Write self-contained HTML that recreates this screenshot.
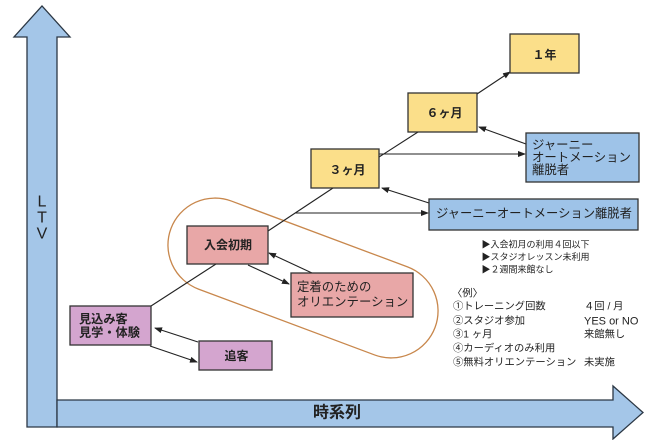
<!DOCTYPE html>
<html>
<head>
<meta charset="utf-8">
<style>
  html,body{margin:0;padding:0;background:#fff;}
  svg{display:block;}
  text{font-family:"Liberation Sans","Noto Sans CJK JP",sans-serif;fill:#222;}
</style>
</head>
<body>
<svg width="660" height="440" viewBox="0 0 660 440" xmlns="http://www.w3.org/2000/svg">
  <defs>
    <marker id="ah" markerWidth="8" markerHeight="6" refX="7" refY="3" orient="auto" markerUnits="userSpaceOnUse">
      <path d="M0,0 L8,3 L0,6 Z" fill="#222"/>
    </marker>
  </defs>

  <!-- Axes -->
  <polygon points="27,427 27,37 14,37 42,6 70,37 57,37 57,427" fill="#a4c6e8" stroke="#2b3744" stroke-width="1.3" stroke-linejoin="miter"/>
  <polygon points="57,400 613,400 613,386 643,412.5 613,439 613,427 57,427" fill="#a4c6e8" stroke="#2b3744" stroke-width="1.3"/>
  <text x="42" y="202" font-size="16" text-anchor="middle" dominant-baseline="central">L</text>
  <text x="42" y="218" font-size="16" text-anchor="middle" dominant-baseline="central">T</text>
  <text x="42" y="234" font-size="16" text-anchor="middle" dominant-baseline="central">V</text>
  <text x="337" y="413" font-size="16" font-weight="bold" text-anchor="middle" dominant-baseline="central">時系列</text>

  <!-- Oval -->
  <rect x="162" y="231" width="282" height="94" rx="47" ry="47" fill="none" stroke="#c8874c" stroke-width="1.3" transform="rotate(20.5 303 278)"/>

  <!-- Connectors -->
  <g stroke="#222" stroke-width="1.1" fill="none">
    <line x1="151" y1="306" x2="216" y2="264"/>
    <line x1="150" y1="346" x2="197" y2="362" marker-end="url(#ah)"/>
    <line x1="198" y1="342" x2="155" y2="328" marker-end="url(#ah)"/>
    <line x1="268" y1="231" x2="333" y2="188"/>
    <line x1="248" y1="265" x2="289" y2="284" marker-end="url(#ah)"/>
    <line x1="312" y1="273" x2="269" y2="253" marker-end="url(#ah)"/>
    <line x1="295" y1="213" x2="428" y2="213" marker-end="url(#ah)"/>
    <line x1="429" y1="203" x2="382" y2="188" marker-end="url(#ah)"/>
    <line x1="379" y1="157" x2="418" y2="132"/>
    <line x1="379" y1="154" x2="525" y2="154" marker-end="url(#ah)"/>
    <line x1="526" y1="144" x2="479" y2="127" marker-end="url(#ah)"/>
    <line x1="477" y1="94" x2="510" y2="72" marker-end="url(#ah)"/>
  </g>

  <!-- Boxes -->
  <g stroke="#333" stroke-width="1.3">
    <rect x="510" y="34" width="69" height="39" fill="#fbdf8a"/>
    <rect x="408" y="93" width="69" height="39" fill="#fbdf8a"/>
    <rect x="311" y="149" width="68" height="39" fill="#fbdf8a"/>
    <rect x="526" y="133" width="113" height="49" fill="#9ec3e8"/>
    <rect x="429" y="199" width="209" height="31" fill="#9ec3e8"/>
    <rect x="187" y="226" width="81" height="38" fill="#e8a7a7"/>
    <rect x="291" y="273" width="122" height="44" fill="#e8a7a7"/>
    <rect x="70" y="306" width="81" height="39" fill="#d4a5cf"/>
    <rect x="199" y="341" width="73" height="29" fill="#d4a5cf"/>
  </g>

  <!-- Box labels -->
  <text x="544.5" y="55" font-size="12" font-weight="bold" text-anchor="middle" dominant-baseline="central">１年</text>
  <text x="444.5" y="113" font-size="12" font-weight="bold" text-anchor="middle" dominant-baseline="central">６ヶ月</text>
  <text x="347.5" y="170" font-size="12" font-weight="bold" text-anchor="middle" dominant-baseline="central">３ヶ月</text>

  <text font-size="12.4" dominant-baseline="central">
    <tspan x="532" y="145">ジャーニー</tspan>
    <tspan x="532" y="157.5">オートメーション</tspan>
    <tspan x="532" y="170">離脱者</tspan>
  </text>
  <text x="436" y="213.5" font-size="12.3" dominant-baseline="central">ジャーニーオートメーション離脱者</text>

  <text x="228" y="245" font-size="12" font-weight="bold" text-anchor="middle" dominant-baseline="central">入会初期</text>
  <text font-size="12.4" dominant-baseline="central">
    <tspan x="297" y="287">定着のための</tspan>
    <tspan x="297" y="302">オリエンテーション</tspan>
  </text>
  <text font-size="12.2" font-weight="bold" dominant-baseline="central">
    <tspan x="79" y="319">見込み客</tspan>
    <tspan x="79" y="332.5">見学・体験</tspan>
  </text>
  <text x="236.5" y="356" font-size="12" font-weight="bold" text-anchor="middle" dominant-baseline="central">追客</text>

  <!-- Notes -->
  <g font-size="9">
    <text x="481.5" y="244.5" dominant-baseline="central">▶入会初月の利用４回以下</text>
    <text x="481.5" y="257" dominant-baseline="central">▶スタジオレッスン未利用</text>
    <text x="481.5" y="269.5" dominant-baseline="central">▶２週間来館なし</text>
  </g>
  <g font-size="10.3">
    <text x="452" y="294" dominant-baseline="central">〈例〉</text>
    <text x="453" y="307" dominant-baseline="central">①トレーニング回数</text>
    <text x="453" y="321.5" dominant-baseline="central">②スタジオ参加</text>
    <text x="453" y="335" dominant-baseline="central">③1 ヶ月</text>
    <text x="453" y="349" dominant-baseline="central">④カーディオのみ利用</text>
    <text x="453" y="363" dominant-baseline="central">⑤無料オリエンテーション</text>
    <text x="584" y="307" dominant-baseline="central">４回 / 月</text>
    <text x="584" y="321.5" font-size="11" dominant-baseline="central">YES or NO</text>
    <text x="584" y="335" dominant-baseline="central">来館無し</text>
    <text x="584" y="363" dominant-baseline="central">未実施</text>
  </g>
</svg>
</body>
</html>
